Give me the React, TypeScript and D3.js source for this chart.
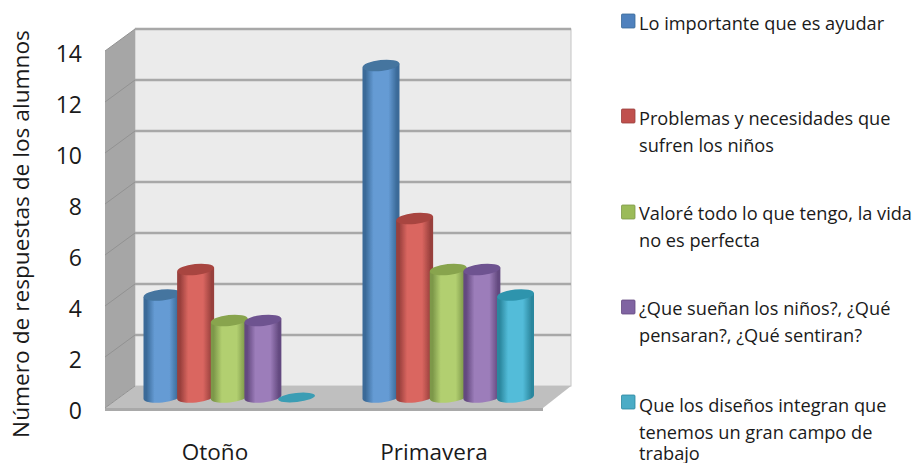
import React from "react";
import * as d3 from "d3";

const categories = ["Otoño", "Primavera"];
const seriesNames = ["s1", "s2", "s3", "s4", "s5"];
const otono = [4, 5, 3, 3, 0];
const primavera = [13, 7, 5, 5, 4];
const yTicks = [0, 2, 4, 6, 8, 10, 12, 14];
const legendLines = [
  ["Lo importante que es ayudar"],
  ["Problemas y necesidades que", "sufren los niños"],
  ["Valoré todo lo que tengo, la vida", "no es perfecta"],
  ["¿Que sueñan los niños?, ¿Qué", "pensaran?, ¿Qué sentiran?"],
  ["Que los diseños integran que", "tenemos un gran campo de", "trabajo"],
];
const legendY = [14, 109, 205, 300, 395];
const legendBaseline = [30, 125, 220, 315, 412];
const lineOffsets = [0, 26.5, 47.5];
const colorEdge = ["#3a6a98", "#983f3c", "#7d9849", "#644a80", "#2c879e"];
const colorMid = ["#659bd4", "#da6660", "#b2cf70", "#9c7dba", "#52bcd9"];
const colorTop = ["#44749f", "#a8443f", "#88a44d", "#6e5290", "#2f94ad"];
const colorSwatch = ["#4f81bd", "#c0504d", "#9bbb59", "#8064a2", "#4bacc6"];

const FONT = "'Open Sans', Lato, sans-serif";
const W = 917, H = 463;
const backL = 135, backR = 571, frontL = 105, frontR = 543;
const depthY = 22;
const y = d3.scaleLinear().domain([0, 14]).range([386, 29]);
const frontY = 11;
const barX = d3.scaleLinear().domain([0, 4]);
const rx = 18.5, ry = 5.5;
const tilt = -6;

const centers = (cat: string, i: number) => {
  const start = cat === "Otoño" ? 162 : 381;
  return barX.range([start, start + 134.5])(i);
};

export default function App() {
  const rows = [otono, primavera];
  return (
    <svg width={W} height={H} style={{ position: "absolute", left: 0, top: 0, background: "#fff" }}>
      <defs>
        {seriesNames.map((s, i) => (
          <linearGradient key={s} id={`g${i}`} x1="0" x2="1" y1="0" y2="0">
            <stop offset="0" stopColor={colorEdge[i]} />
            <stop offset="0.08" stopColor={colorEdge[i]} />
            <stop offset="0.3" stopColor={colorMid[i]} />
            <stop offset="0.7" stopColor={colorMid[i]} />
            <stop offset="0.93" stopColor={colorEdge[i]} />
            <stop offset="1" stopColor={colorEdge[i]} />
          </linearGradient>
        ))}
        <filter id="soft" x="-5%" y="-5%" width="110%" height="110%">
          <feGaussianBlur stdDeviation="0.5" />
        </filter>
      </defs>

      <g filter="url(#soft)">
        <rect x={backL} y={y(14)} width={backR - backL} height={y(0) - y(14)} fill="#ebebeb" stroke="#c4c4c4" strokeWidth={1} />
        <polygon
          points={`${frontL},${y(14) + depthY} ${backL},${y(14)} ${backL},${y(0)} ${frontL},${y(0) + depthY}`}
          fill="#a6a6a6"
        />
        <polygon
          points={`${backL},${y(0)} ${backR},${y(0)} ${frontR},${y(0) + depthY} ${frontL},${y(0) + depthY}`}
          fill="#bfbfbf"
        />
        <rect x={frontL} y={y(0) + depthY} width={frontR - frontL} height={3} fill="#a9a9a9" />
        {yTicks.map((t) => (
          <g key={t}>
            {t > 0 && <line x1={backL} x2={backR} y1={y(t)} y2={y(t)} stroke="#a8a8a8" strokeWidth={2.4} />}
            <line x1={frontL} x2={backL} y1={y(t) + depthY} y2={y(t)} stroke="#929292" strokeWidth={1} />
          </g>
        ))}
        {categories.map((cat, c) =>
          rows[c].map((v, i) => {
            const cx = centers(cat, i);
            const base = y(0) + frontY;
            const top = y(v) + frontY;
            if (v === 0) {
              return (
                <ellipse key={`${cat}${i}`} cx={cx} cy={base + 0.5} rx={rx} ry={ry - 1} fill="#3a9db4" transform={`rotate(${tilt} ${cx} ${base})`} />
              );
            }
            const dy = rx * Math.tan((-tilt * Math.PI) / 180);
            const d = `M${cx - rx},${top + dy} L${cx - rx},${base + dy} A${rx},${ry} ${tilt} 0 0 ${cx + rx},${base - dy} L${cx + rx},${top - dy} Z`;
            return (
              <g key={`${cat}${i}`}>
                <path d={d} fill={`url(#g${i})`} />
                <ellipse cx={cx} cy={top} rx={rx} ry={ry} fill={colorTop[i]} transform={`rotate(${tilt} ${cx} ${top})`} />
              </g>
            );
          })
        )}
      </g>

      <g fontFamily={FONT} fontSize={23} fill="#1a1a1a" textAnchor="end">
        {yTicks.map((t) => (
          <text key={t} x={82} y={y(t) + depthY + 11}>{t}</text>
        ))}
      </g>
      <text
        transform="translate(29,234) rotate(-90)"
        textAnchor="middle"
        fontFamily={FONT}
        fontSize={22.7}
        fill="#1a1a1a"
      >
        Número de respuestas de los alumnos
      </text>
      <g fontFamily={FONT} fontSize={22.5} fill="#1a1a1a" textAnchor="middle">
        <text x={215} y={460}>{categories[0]}</text>
        <text x={434} y={460}>{categories[1]}</text>
      </g>
      {legendLines.map((lines, i) => (
        <g key={i}>
          <rect x={621.5} y={legendY[i]} width={13.5} height={14} rx={1} fill={colorSwatch[i]} stroke={colorEdge[i]} strokeWidth={0.8} />
          {lines.map((l, j) => (
            <text key={j} x={639} y={legendBaseline[i] + lineOffsets[j]} fontFamily={FONT} fontSize={18.2} fill="#1a1a1a">{l}</text>
          ))}
        </g>
      ))}
    </svg>
  );
}
